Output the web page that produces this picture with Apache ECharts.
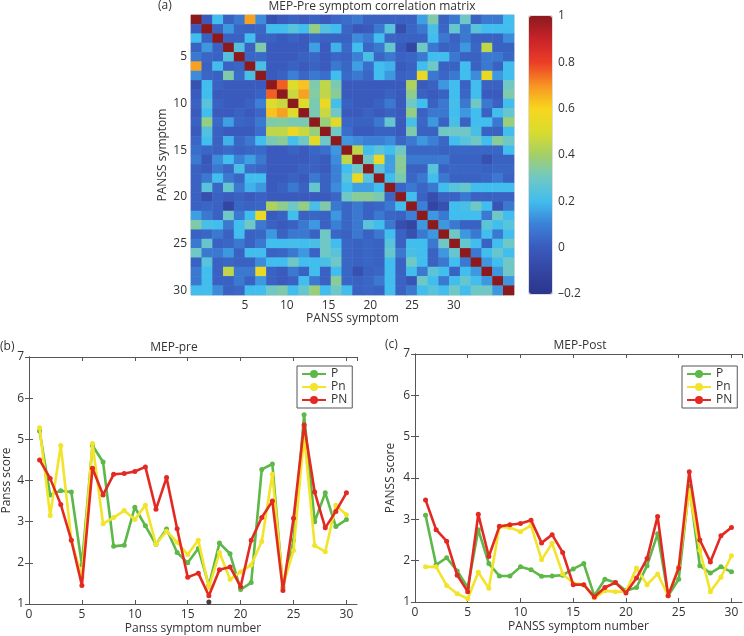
<!DOCTYPE html>
<html><head><meta charset="utf-8">
<script src="https://cdn.jsdelivr.net/npm/echarts@6/dist/echarts.min.js"></script>
<style>html,body{margin:0;padding:0;background:#fff}#c{width:744px;height:636px}</style>
</head><body><div id="c"></div>
<script>
// ---------- DATA ----------
const symptomLabels = ['1','2','3','4','5','6','7','8','9','10','11','12','13','14','15','16','17','18','19','20','21','22','23','24','25','26','27','28','29','30'];
// lower triangle of the symmetric correlation matrix (row r holds columns 1..r)
const corrLower = [
 [1],
 [0.0,1],
 [0.2,0.02,1],
 [0.02,0.14,0.02,1],
 [0.08,0.03,0.02,0.24,1],
 [0.68,0.02,0.2,0.02,0.03,1],
 [0.12,0.03,0.02,0.33,0.04,0.22,1],
 [-0.05,0.2,0.02,0.0,0.0,0.0,0.0,1],
 [0.0,0.2,0.0,0.0,0.0,0.0,0.02,0.76,1],
 [0.02,0.25,0.02,0.0,0.0,0.02,0.1,0.52,0.47,1],
 [0.0,0.2,0.0,0.0,0.02,0.0,0.03,0.63,0.68,0.52,1],
 [0.02,0.37,0.04,0.15,0.03,0.02,0.08,0.33,0.34,0.32,0.32,1],
 [0.0,0.24,0.02,0.0,0.0,0.0,0.05,0.45,0.45,0.56,0.47,0.38,1],
 [0.03,0.2,0.02,0.18,0.03,0.08,0.2,0.32,0.35,0.21,0.3,0.53,0.3,1],
 [0.05,0.03,0.02,0.04,0.02,0.03,0.04,0.0,0.0,0.02,0.0,0.03,0.05,0.14,1],
 [0.08,-0.02,0.12,0.2,0.1,0.15,0.08,0.0,0.0,0.0,0.0,0.02,0.0,0.12,0.45,1],
 [0.02,0.0,0.08,0.03,0.22,0.05,0.03,0.0,0.0,0.0,0.02,0.02,0.0,0.1,0.2,0.3,1],
 [0.02,0.08,0.2,0.08,0.03,0.2,0.2,0.0,0.0,0.02,0.0,0.08,0.02,0.1,0.25,0.55,0.25,1],
 [0.02,0.25,0.03,0.28,0.08,0.18,0.14,0.0,0.02,0.08,0.02,0.28,0.02,0.12,0.2,0.15,0.15,0.2,1],
 [0.02,-0.06,0.02,0.0,0.02,0.0,0.02,0.0,0.0,0.0,0.0,0.0,0.0,0.03,0.3,0.35,0.35,0.32,0.03,1],
 [0.02,0.03,0.02,-0.1,0.03,0.02,0.03,0.42,0.36,0.3,0.37,0.22,0.33,0.08,0.03,0.08,0.02,0.03,0.08,0.2,1],
 [0.15,0.08,0.02,0.3,0.08,0.2,0.55,0.0,0.02,0.2,0.02,0.03,0.02,0.14,0.03,0.08,0.02,0.08,0.03,0.02,0.1,1],
 [0.33,0.22,0.2,0.08,0.2,0.3,0.08,0.02,0.0,0.02,0.08,0.14,0.02,0.1,0.03,0.08,0.25,0.2,0.08,-0.06,-0.1,0.14,1],
 [0.02,0.03,0.08,0.02,0.2,0.02,0.03,0.14,0.02,0.08,0.08,0.02,0.3,0.03,0.02,0.08,0.02,0.08,0.2,0.02,-0.05,0.08,0.14,1],
 [0.08,0.28,0.02,0.03,0.08,0.02,0.08,0.2,0.2,0.21,0.2,0.22,0.3,0.2,0.03,0.02,0.03,0.02,0.25,0.02,0.2,0.2,0.08,0.3,1],
 [0.3,0.08,0.08,0.14,0.02,0.2,0.2,0.02,0.03,0.08,0.14,0.02,0.3,0.25,0.03,0.02,0.03,0.02,0.28,0.08,0.22,0.2,0.02,0.14,0.28,1],
 [0.02,0.25,0.02,0.03,0.02,0.02,0.12,0.2,0.2,0.3,0.2,0.2,0.22,0.3,0.03,0.02,0.03,0.02,0.2,0.02,0.3,0.2,0.02,0.08,0.2,0.08,1],
 [0.08,0.2,0.02,0.45,0.08,0.08,0.55,0.02,0.0,0.08,0.02,0.2,0.02,0.2,0.03,-0.05,0.02,0.03,0.2,0.02,0.2,0.08,0.26,0.2,0.02,0.2,0.14,1],
 [0.08,0.2,0.02,0.02,0.08,0.02,0.14,0.02,0.0,0.02,0.2,0.08,0.02,0.35,0.03,0.02,0.03,0.08,0.2,0.02,-0.03,0.3,0.2,0.08,0.2,0.28,0.2,0.14,1],
 [0.2,0.2,0.12,0.02,0.03,0.2,0.2,0.3,0.33,0.2,0.28,0.38,0.2,0.3,0.2,0.02,0.03,0.02,0.2,0.02,0.08,0.2,0.25,0.2,0.3,0.2,0.3,0.3,0.14,1]
];
const heatXTickLabels = [5,10,15,20,25,30];
const colorbarColors = ['#2b358c','#3446a3','#3a5bbd','#3b80d6','#41bdee','#6fc8c6','#a4cf68','#d9dc2e','#f8d61e','#f79423','#ec3d27','#c8232a','#8c1a1d'];

const symptomNumbers = [1,2,3,4,5,6,7,8,9,10,11,12,13,14,15,16,17,18,19,20,21,22,23,24,25,26,27,28,29,30];
const preP  = [5.2,3.65,3.75,3.72,1.95,4.85,4.45,2.4,2.43,3.35,2.9,2.45,2.82,2.25,2.0,2.35,1.45,2.48,2.22,1.35,1.52,4.27,4.4,1.4,2.55,5.6,3.0,3.7,2.88,3.05];
const prePn = [5.28,3.15,4.85,2.55,1.65,4.9,2.95,3.1,3.27,3.05,3.4,2.45,2.77,2.5,2.2,2.55,1.4,2.25,1.6,1.78,1.95,2.52,4.15,1.45,2.3,5.1,2.42,2.27,3.4,3.17];
const prePN = [4.5,4.05,3.42,2.55,1.45,4.3,3.65,4.15,4.17,4.22,4.33,3.3,4.07,2.83,1.65,1.75,1.2,1.83,1.9,1.42,2.55,3.1,3.5,1.33,3.08,5.35,3.72,2.85,3.25,3.7];
const postP  = [3.1,1.9,2.07,1.75,1.35,2.75,1.93,1.63,1.63,1.85,1.78,1.62,1.63,1.65,1.8,1.93,1.15,1.55,1.47,1.27,1.35,1.88,2.65,1.15,1.55,3.8,1.88,1.7,1.85,1.73];
const postPn = [1.85,1.85,1.4,1.2,1.08,1.72,1.33,2.82,2.8,2.7,2.85,2.02,2.42,1.68,1.45,1.42,1.1,1.27,1.25,1.25,1.82,1.42,1.68,1.15,1.85,3.7,2.25,1.25,1.6,2.12];
const postPN = [3.47,2.75,2.47,1.65,1.25,3.12,2.1,2.83,2.87,2.9,2.98,2.43,2.63,2.2,1.42,1.42,1.12,1.35,1.47,1.22,1.58,2.05,3.07,1.15,1.82,4.15,2.5,1.97,2.6,2.8];
const preStrayPoint = [[17, 1.05]];
const seriesNames = ['P','Pn','PN'];

// ---------- BUILD ----------
const heatData = [];
corrLower.forEach((row, r) => row.forEach((v, c) => {
  heatData.push([c, r, v]);
  if (c !== r) heatData.push([r, c, v]);
}));
const pairs = arr => arr.map((v, i) => [symptomNumbers[i], v]);

const FONT = '"Open Sans", "Liberation Sans", sans-serif';
const TXT = '#333';
const AX = '#555';
const lineColors = ['#5cb848','#f2e42a','#e32a22'];

function boxAxes(gridIndex, xName, yName, yGap) {
  return {
    x: [
      { type:'value', gridIndex, min:0, max:31, interval:5, position:'bottom',
        name:xName, nameLocation:'middle', nameGap:19,
        nameTextStyle:{fontFamily:FONT,fontSize:12,color:TXT},
        axisLine:{lineStyle:{color:AX}}, axisTick:{inside:true,length:4,lineStyle:{color:AX}},
        axisLabel:{showMaxLabel:false,fontFamily:FONT,fontSize:12,color:TXT,margin:5}, splitLine:{show:false} },
      { type:'value', gridIndex, min:0, max:31, interval:5, position:'top',
        axisLine:{lineStyle:{color:AX}}, axisTick:{inside:true,length:4,lineStyle:{color:AX}},
        axisLabel:{show:false}, splitLine:{show:false} }
    ],
    y: [
      { type:'value', gridIndex, min:1, max:7, interval:1, position:'left',
        name:yName, nameLocation:'middle', nameGap:yGap,
        nameTextStyle:{fontFamily:FONT,fontSize:12,color:TXT},
        axisLine:{show:true,lineStyle:{color:AX}}, axisTick:{show:true,inside:true,length:4,lineStyle:{color:AX}},
        axisLabel:{fontFamily:FONT,fontSize:12,color:TXT,margin:5}, splitLine:{show:false} },
      { type:'value', gridIndex, min:1, max:7, interval:1, position:'right',
        axisLine:{show:true,lineStyle:{color:AX}}, axisTick:{show:true,inside:true,length:4,lineStyle:{color:AX}},
        axisLabel:{show:false}, splitLine:{show:false} }
    ]
  };
}
const bAx = boxAxes(1, 'Panss symptom number', 'Panss score', 16);
const cAx = boxAxes(2, 'PANSS symptom number', 'PANSS score', 18);

function lineSeries(name, data, idx, xi, yi) {
  return { type:'line', name, data:pairs(data), xAxisIndex:xi, yAxisIndex:yi,
    symbol:'circle', symbolSize:5, showSymbol:true,
    lineStyle:{color:lineColors[idx], width:2.6}, itemStyle:{color:lineColors[idx]},
    z: 3+idx, animation:false };
}

const legendCommon = { data:seriesNames, orient:'vertical', itemWidth:24, itemHeight:10, itemGap:1,
  padding:[2,5,2,4], borderColor:'#555', borderWidth:1, backgroundColor:'#fff',
  textStyle:{fontFamily:FONT,fontSize:12,color:TXT}, selectedMode:false };

const option = {
  animation:false,
  textStyle:{fontFamily:FONT},
  grid: [
    { left:191, top:15, width:323, height:280, show:true, borderColor:'#bbb', borderWidth:1 },
    { left:29, top:357, width:328, height:247 },
    { left:415, top:354, width:327, height:248 },
    { left:529, top:16, width:23, height:278, show:true, borderColor:'#bbb', borderWidth:1 }
  ],
  xAxis: [
    { type:'category', gridIndex:0, data:symptomLabels, position:'top', axisLine:{show:false}, axisTick:{show:false}, axisLabel:{show:false}, splitLine:{show:false} },
    { type:'value', gridIndex:0, min:-1.46, max:37.2, position:'bottom',
      name:'PANSS symptom', nameLocation:'middle', nameGap:18,
      nameTextStyle:{fontFamily:FONT,fontSize:12,color:TXT},
      axisLine:{show:false}, axisTick:{show:false}, splitLine:{show:false},
      axisLabel:{customValues:heatXTickLabels, fontFamily:FONT,fontSize:12,color:TXT,margin:5} },
    bAx.x[0], bAx.x[1], cAx.x[0], cAx.x[1],
    { type:'value', gridIndex:3, min:0, max:1, show:false }
  ],
  yAxis: [
    { type:'category', gridIndex:0, data:symptomLabels, inverse:true,
      name:'PANSS symptom', nameLocation:'middle', nameGap:22,
      nameTextStyle:{fontFamily:FONT,fontSize:12,color:TXT},
      axisLine:{show:false}, axisTick:{show:false}, splitLine:{show:false},
      axisLabel:{interval:(i)=> (i+1)%5===0, fontFamily:FONT,fontSize:12,color:TXT,margin:4} },
    bAx.y[0], bAx.y[1], cAx.y[0], cAx.y[1],
    { type:'value', gridIndex:3, min:-0.2, max:1, interval:0.2, position:'right',
      axisLine:{show:false}, axisTick:{show:false}, splitLine:{show:false},
      axisLabel:{fontFamily:FONT,fontSize:12,color:TXT,margin:6,
        formatter:(v)=> { const s = String(Math.round(v*10)/10); return s.replace('-', '\u2013'); } } }
  ],
  visualMap: {
    type:'continuous', min:-0.2, max:1, seriesIndex:0, inRange:{color:colorbarColors},
    left:529, top:16, itemWidth:23, itemHeight:278, padding:0, calculable:false,
    text:null, showLabel:false, hoverLink:false
  },
  legend: [
    Object.assign({left:297, top:366}, legendCommon),
    Object.assign({left:682, top:366}, legendCommon)
  ],
  graphic: [
    { type:'text', left:158, top:0, style:{text:'(a)', font:'12px '+FONT, fill:TXT} },
    { type:'text', x:372, y:1, style:{text:'MEP-Pre symptom correlation matrix', font:'12px '+FONT, fill:TXT, textAlign:'center', textVerticalAlign:'top'} },
    { type:'text', left:0, top:341, style:{text:'(b)', font:'12px '+FONT, fill:TXT} },
    { type:'text', x:174, y:342, style:{text:'MEP-pre', font:'12px '+FONT, fill:TXT, textAlign:'center', textVerticalAlign:'top'} },
    { type:'text', left:385, top:339, style:{text:'(c)', font:'12px '+FONT, fill:TXT} },
    { type:'text', x:580, y:340, style:{text:'MEP-Post', font:'12px '+FONT, fill:TXT, textAlign:'center', textVerticalAlign:'top'} }
  ],
  series: [
    { type:'heatmap', data:heatData, xAxisIndex:0, yAxisIndex:0, progressive:0, animation:false, emphasis:{disabled:true} },
    lineSeries('P', preP, 0, 2, 1),
    lineSeries('Pn', prePn, 1, 2, 1),
    lineSeries('PN', prePN, 2, 2, 1),
    lineSeries('P', postP, 0, 4, 3),
    lineSeries('Pn', postPn, 1, 4, 3),
    lineSeries('PN', postPN, 2, 4, 3),
    { type:'scatter', data:preStrayPoint, xAxisIndex:2, yAxisIndex:1, symbol:'circle', symbolSize:5, itemStyle:{color:'#111'}, z:10 }
  ]
};
const chart = echarts.init(document.getElementById('c'), null, {renderer:'canvas'});
chart.setOption(option);
</script>
</body></html>
